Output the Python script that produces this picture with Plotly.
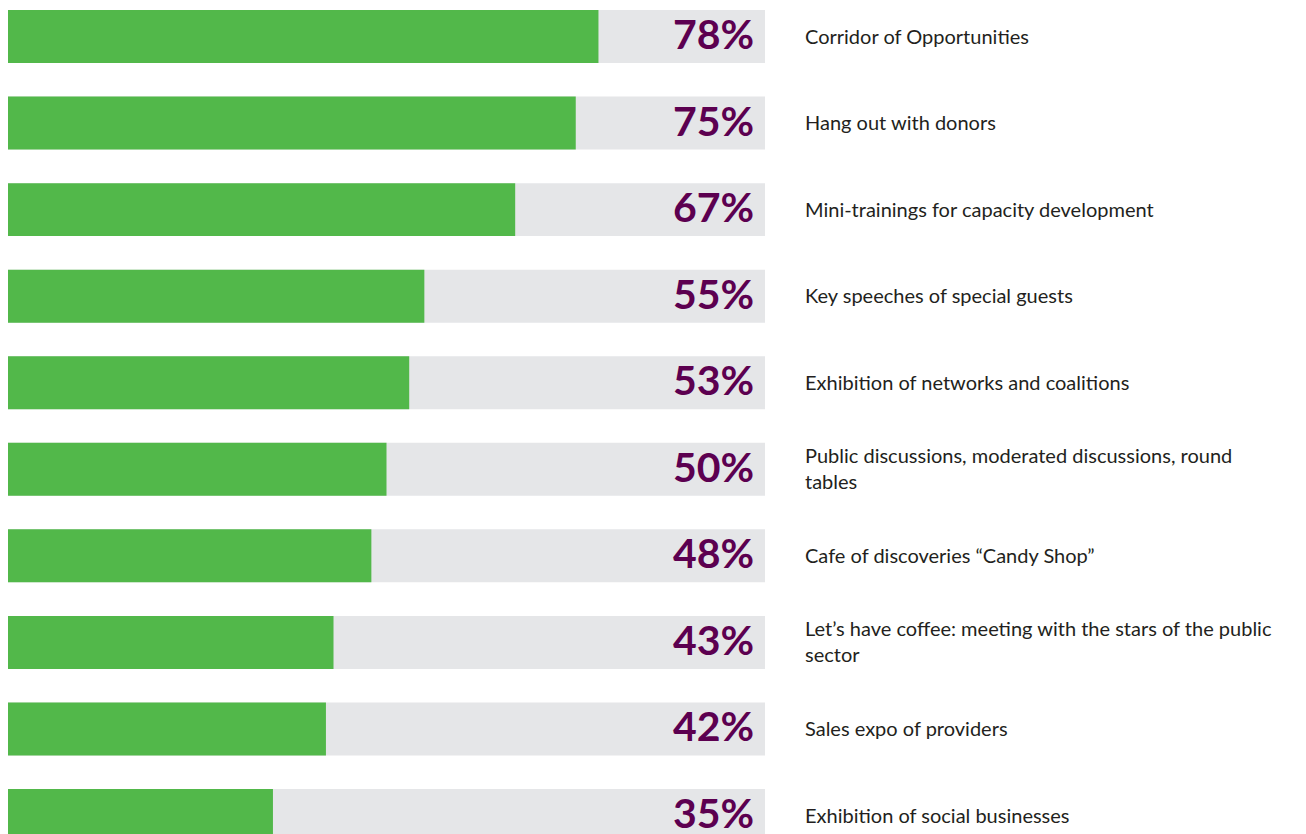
import plotly.graph_objects as go

categories = [
    "Corridor of Opportunities",
    "Hang out with donors",
    "Mini-trainings for capacity development",
    "Key speeches of special guests",
    "Exhibition of networks and coalitions",
    "Public discussions, moderated discussions, round<br>tables",
    "Cafe of discoveries \u201cCandy Shop\u201d",
    "Let\u2019s have coffee: meeting with the stars of the public<br>sector",
    "Sales expo of providers",
    "Exhibition of social businesses",
]
values = [78, 75, 67, 55, 53, 50, 48, 43, 42, 35]
full_scale = [100] * len(values)

GREEN = "#52b84a"
GREY = "#e5e6e8"
PURPLE = "#5c0050"
TEXT = "#231f20"

fig = go.Figure()
fig.add_trace(go.Bar(
    x=full_scale, y=categories, orientation="h",
    marker=dict(color=GREY, line=dict(width=0)), width=0.612,
    hoverinfo="skip", showlegend=False,
))
fig.add_trace(go.Bar(
    x=values, y=categories, orientation="h",
    marker=dict(color=GREEN, line=dict(width=0)), width=0.612,
    showlegend=False,
))

annotations = []
for cat, v in zip(categories, values):
    annotations.append(dict(
        x=100, y=cat, xref="x", yref="y", text=f"{v}%",
        xanchor="right", yanchor="middle", xshift=-9, yshift=3,
        showarrow=False,
        font=dict(family="Lato", size=41, color=PURPLE, weight="bold"),
    ))
    annotations.append(dict(
        x=100, y=cat, xref="x", yref="y", text=cat,
        xanchor="left", yanchor="middle", xshift=38, yshift=1,
        align="left", showarrow=False,
        font=dict(family="Lato", size=20, color=TEXT),
    ))

fig.update_layout(
    width=1306, height=834,
    margin=dict(l=0, r=549, t=0, b=0, pad=0),
    paper_bgcolor="white", plot_bgcolor="white",
    barmode="overlay",
    xaxis=dict(range=[0, 100], visible=False, fixedrange=True),
    yaxis=dict(type="category", categoryorder="array", categoryarray=categories,
               range=[9.306, -0.3293], visible=False, fixedrange=True),
    annotations=annotations,
    showlegend=False,
)

fig.write_html("out.html")
